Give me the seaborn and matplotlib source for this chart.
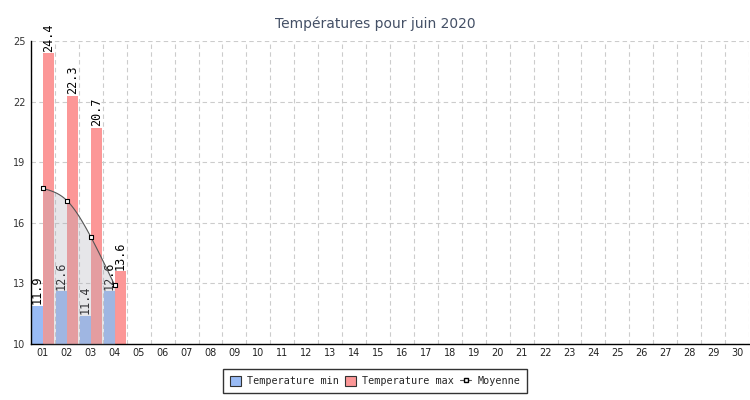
import numpy as np
import pandas as pd
import seaborn as sns
import matplotlib.pyplot as plt
from matplotlib.patches import Patch
from matplotlib.lines import Line2D
from matplotlib.ticker import FixedLocator, NullFormatter

days = [f"{d:02d}" for d in range(1, 31)]
jours_mesures = ["01", "02", "03", "04"]
temp_min = [11.9, 12.6, 11.4, 12.6]
temp_max = [24.4, 22.3, 20.7, 13.6]
moyenne = [17.7, 17.1, 15.3, 12.9]
y_ticks = [10, 13, 16, 19, 22, 25]

series = ["Temperature min", "Temperature max"]
colors = ["#99bbf5", "#fc9797"]

df = pd.DataFrame({
    "jour": jours_mesures * 2,
    "serie": [series[0]] * 4 + [series[1]] * 4,
    "temp": temp_min + temp_max,
})

sns.set_theme(style="white")
fig = plt.figure(figsize=(7.5, 4), dpi=100)
ax = fig.add_axes([31 / 750, 1 - 344 / 400, 718 / 750, 303 / 400])

sns.barplot(data=df, x="jour", y="temp", hue="serie", order=days,
            hue_order=series, palette=colors, width=0.9, saturation=1,
            linewidth=0, ax=ax, zorder=2, legend=False)
for cont in ax.containers:
    ax.bar_label(cont, fmt="%.1f", rotation=90, padding=1, fontsize=8.5,
                 family="DejaVu Sans Mono", color="black", clip_on=False)

# smoothed mean curve (natural cubic spline drawn through the points)
x = np.arange(len(moyenne), dtype=float)
y = np.array(moyenne)
n = len(x)
A = np.zeros((n, n))
b = np.zeros(n)
A[0, 0] = A[-1, -1] = 1
for i in range(1, n - 1):
    A[i, i - 1], A[i, i], A[i, i + 1] = 1, 4, 1
    b[i] = 6 * (y[i - 1] - 2 * y[i] + y[i + 1])
M = np.linalg.solve(A, b)
xs, ys = [], []
for i in range(n - 1):
    t = np.linspace(0, 1, 30)
    seg = ((1 - t) * y[i] + t * y[i + 1]
           + ((1 - t) ** 3 - (1 - t)) * M[i] / 6 + (t ** 3 - t) * M[i + 1] / 6)
    xs.extend(x[i] + t)
    ys.extend(seg)
xs, ys = np.array(xs), np.array(ys)
ax.fill_between(xs, ys, 10, color="#adadb8", alpha=0.3, lw=0, zorder=3)
ax.plot(xs, ys, color="#555555", lw=0.8, zorder=4)
sns.scatterplot(x=x, y=y, marker="s", s=12, color="white", edgecolor="black",
                linewidth=0.8, zorder=5, ax=ax)

ax.set_xlim(-0.5, 29.5)
ax.set_ylim(10, 25)
ax.yaxis.set_major_locator(FixedLocator(y_ticks))
ax.yaxis.set_minor_locator(FixedLocator(np.arange(10, 26)))
ax.xaxis.set_major_locator(FixedLocator(np.arange(-0.5, 30, 1)))
ax.xaxis.set_major_formatter(NullFormatter())
ax.set_xticks(np.arange(0, 30), labels=days, minor=True)
ax.tick_params(axis="x", which="minor", length=0, labelsize=7, pad=3, colors="#222222")
ax.tick_params(axis="x", which="major", direction="in", length=5, width=1, color="black")
ax.tick_params(axis="y", which="major", direction="in", length=5, width=1,
               labelsize=7, pad=4, labelcolor="#333333", color="black")
ax.tick_params(axis="y", which="minor", direction="in", length=3, width=1, color="black")
ax.grid(True, which="major", color="#cccccc", linestyle=(0, (4, 3)), linewidth=0.8)
ax.set_axisbelow(True)
for s in ["top", "right"]:
    ax.spines[s].set_visible(False)
for s in ["left", "bottom"]:
    ax.spines[s].set_color("black")
    ax.spines[s].set_linewidth(1)
ax.set_xlabel("")
ax.set_ylabel("")

fig.text(0.5, 1 - 24 / 400, "Températures pour juin 2020", ha="center", va="center",
         fontsize=10, color="#445066")

handles = [
    Patch(facecolor=colors[0], edgecolor="#333333", linewidth=0.8),
    Patch(facecolor=colors[1], edgecolor="#333333", linewidth=0.8),
    Line2D([], [], color="#555555", lw=0.8, marker="s", markersize=3.5,
           markerfacecolor="white", markeredgecolor="black"),
]
leg = fig.legend(handles, series + ["Moyenne"], loc="center", ncol=3,
                 bbox_to_anchor=(0.5, 1 - 381 / 400), frameon=True, fancybox=False,
                 edgecolor="black", prop={"family": "DejaVu Sans Mono", "size": 7.3},
                 handlelength=1.1, handleheight=1.1, handletextpad=0.6,
                 columnspacing=0.6, borderpad=0.7)
leg.get_frame().set_linewidth(1)

fig.savefig("out.png", dpi=100)
